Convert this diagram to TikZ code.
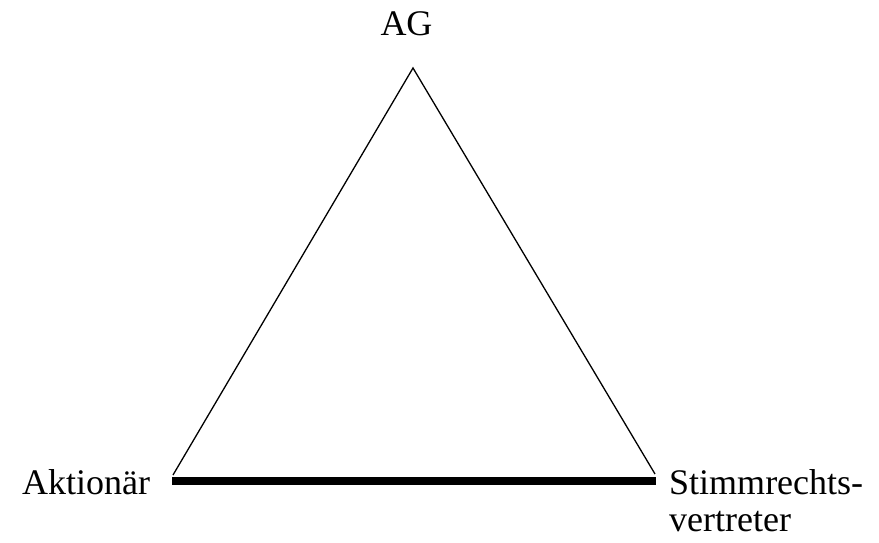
\documentclass[tikz,border=0pt]{standalone}
\usepackage{fontspec}
\setmainfont{Liberation Serif}
\begin{document}
\begin{tikzpicture}[x=1pt,y=-1pt,
  lbl/.style={inner sep=0pt,font=\fontsize{36}{36.5}\selectfont},
  side/.style={line width=1.3pt},
  bar/.style={line width=8pt,line cap=butt}]
\useasboundingbox (0,0) rectangle (879,543);
\coordinate (T) at (413,68);
\coordinate (L) at (173,475);
\coordinate (R) at (655,474);
\coordinate (BL) at (172,481);
\coordinate (BR) at (656,481);
\node[lbl,anchor=base] (ag) at (406.5,36) {AG};
\node[lbl,anchor=base west] (akt) at (22,494) {Aktionär};
\node[lbl,anchor=base west,align=left] (sv) at (669,531) {Stimmrechts-\\vertreter};
\draw[side,line join=miter] (L) -- (T) -- (R);
\draw[bar] (BL) -- (BR);
\end{tikzpicture}
\end{document}
